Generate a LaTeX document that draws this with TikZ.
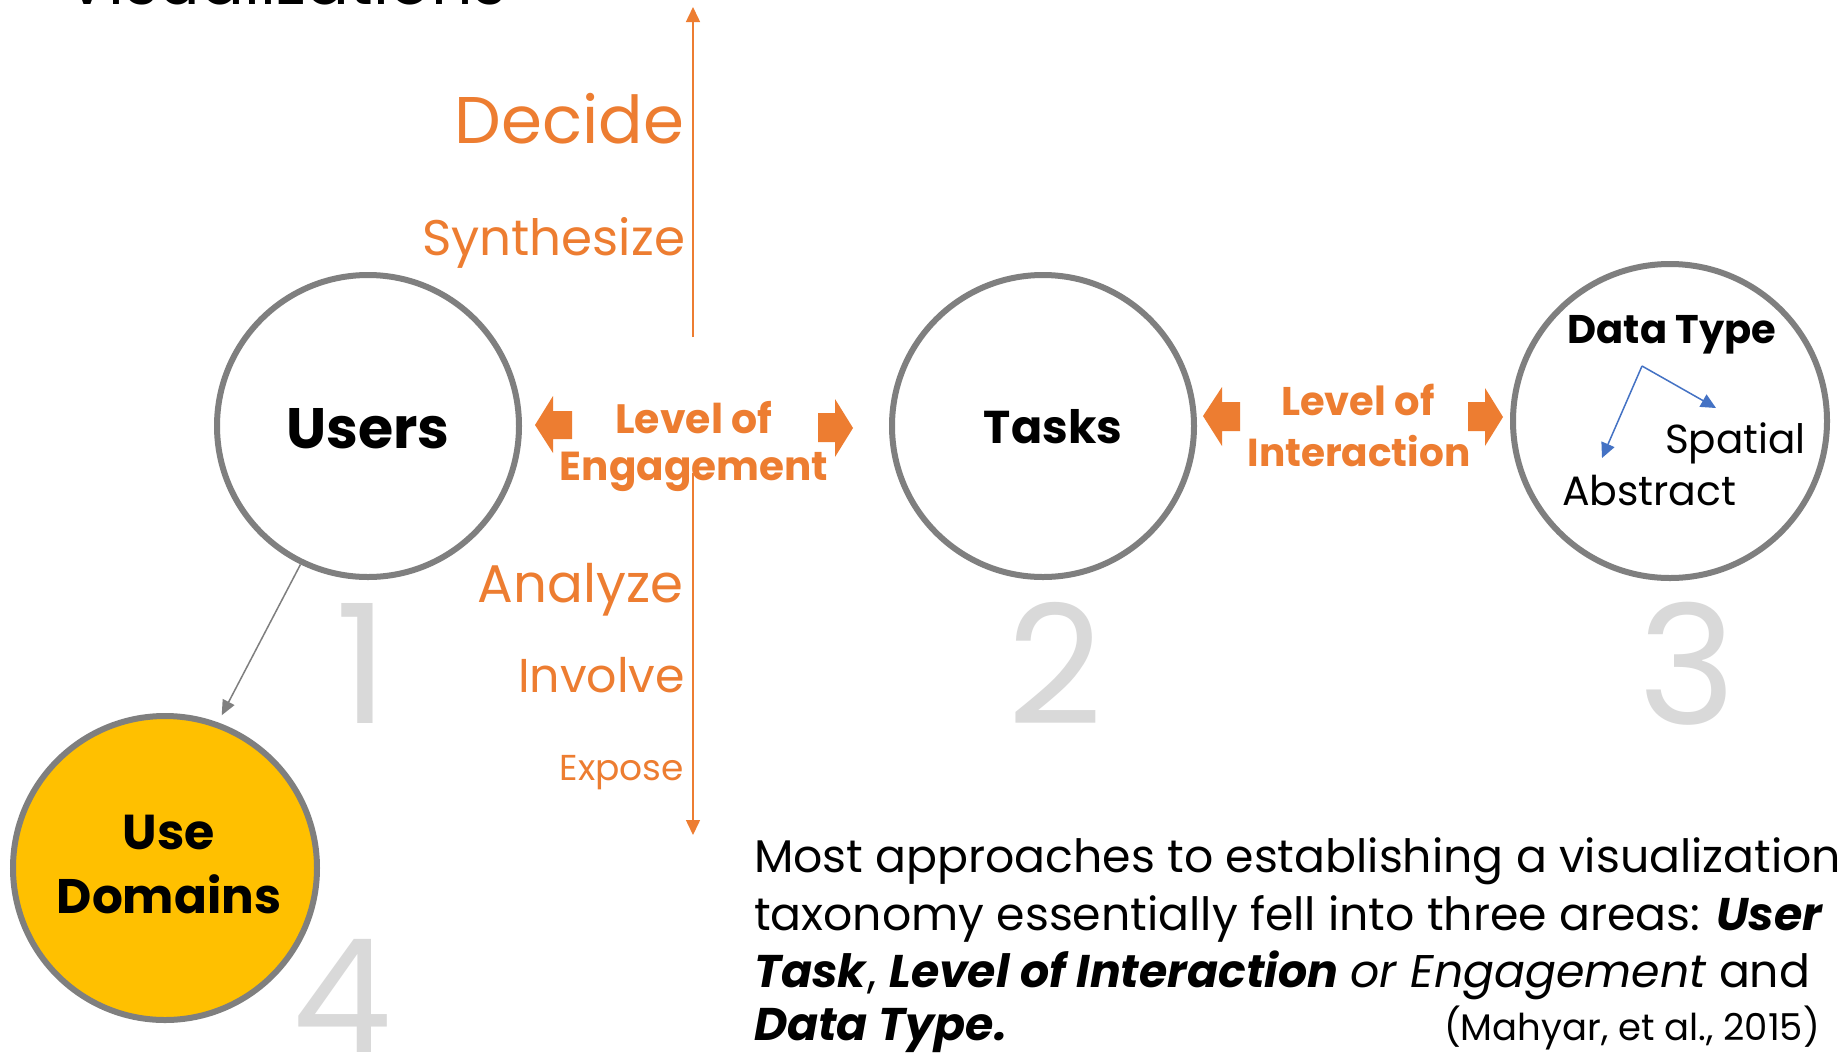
\documentclass[tikz,border=0pt]{standalone}
\usepackage{fontspec}
\setmainfont{Poppins}
\usetikzlibrary{arrows.meta,calc}
\definecolor{org}{HTML}{ED7D31}
\definecolor{cgray}{HTML}{7F7F7F}
\definecolor{ngray}{HTML}{D9D9D9}
\definecolor{bl}{HTML}{4472C4}
\definecolor{yel}{HTML}{FFC000}
\newcommand{\myfs}[1]{\fontsize{#1}{#1}\selectfont}
\tikzset{
  circ/.style={circle, draw=cgray, line width=6pt, inner sep=0pt},
  lbl/.style={inner sep=0pt, outer sep=0pt},
  verb/.style={lbl, anchor=base east, text=org},
  num/.style={lbl, anchor=base, text=ngray},
  para/.style={lbl, anchor=base west, text=black},
  blockarrow/.style={fill=org, draw=none},
  vline/.style={draw=org, line width=1.5pt, -{Triangle[length=15pt,width=14pt]}},
  bluearrow/.style={draw=bl, line width=1.5pt, -{Triangle[length=15pt,width=14pt]}},
  grayarrow/.style={draw=cgray, line width=1.5pt, -{Triangle[length=15pt,width=13pt]}}
}
\begin{document}
\begin{tikzpicture}[x=1pt,y=-1pt]
\useasboundingbox (0,0) rectangle (1839,1053);
\clip (0,0) rectangle (1839,1053);
\fill[white] (0,0) rectangle (1839,1053);

% title cut at top
\node[para] (title) at (65,4) {\myfs{65}Visualizations};

% circles
\node[circ, minimum size=302pt] (users) at (368,426) {};
\node[circ, minimum size=302pt] (tasks) at (1043,426) {};
\node[circ, minimum size=314pt] (dtype) at (1670,421) {};
\node[circ, fill=yel, minimum size=304pt] (usedom) at (165,868) {};

% numbers
\node[num] (n1) at (362,723) {\myfs{166}1};
\node[num] (n2) at (1055,724) {\myfs{166}2};
\node[num] (n3) at (1687,724) {\myfs{166}3};
\node[num] (n4) at (342,1052) {\myfs{158}4};

% circle labels
\node[lbl, anchor=base] (tusers) at (368,448) {\myfs{57}\bfseries Users};
\node[lbl, anchor=base] (ttasks) at (1053,443) {\myfs{46}\bfseries Tasks};
\node[lbl, anchor=base] (tdtype) at (1672,343) {\myfs{40}\bfseries Data Type};
\node[lbl, anchor=base west] (tspatial) at (1665,453) {\myfs{40.5}Spatial};
\node[lbl, anchor=base west] (tabstract) at (1562,505) {\myfs{41}Abstract};
\node[lbl, anchor=base] (tuse) at (169,849) {\myfs{49}\bfseries Use};
\node[lbl, anchor=base] (tdomains) at (169,913) {\myfs{48.5}\bfseries Domains};

% blue arrows
\coordinate (dtsplit) at (1642,366);
\coordinate (abstip) at (1602,458);
\coordinate (spatip) at (1716,408);
\draw[bluearrow] (dtsplit) -- (abstip);
\draw[bluearrow] (dtsplit) -- (spatip);

% gray arrow users -> use domains
\draw[grayarrow, shorten >=8pt] (users.-116) -- (usedom.70);

% vertical engagement axis
\coordinate (vtopstart) at (693,337);
\coordinate (vtopend) at (693,7);
\coordinate (vbotstart) at (693,473);
\coordinate (vbotend) at (693,835);
\draw[vline] (vtopstart) -- (vtopend);
\draw[vline] (vbotstart) -- (vbotend);

% verbs
\node[verb] (decide) at (684,143) {\myfs{66}Decide};
\node[verb] (synth) at (685,255) {\myfs{50}Synthesize};
\node[verb] (analyze) at (683,602) {\myfs{53}Analyze};
\node[verb] (involve) at (685,692) {\myfs{47.5}Involve};
\node[verb] (expose) at (684,780) {\myfs{36}Expose};

% Level of Engagement
\node[lbl, anchor=base, text=org] (eng1) at (694,433) {\myfs{41}\bfseries Level of};
\node[lbl, anchor=base, text=org] (eng2) at (694,480) {\myfs{40.5}\bfseries Engagement};
\node[lbl, anchor=base, text=org] (int1) at (1358,415) {\myfs{40}\bfseries Level of};
\node[lbl, anchor=base, text=org] (int2) at (1359,466) {\myfs{39}\bfseries Interaction};

% block arrows
\fill[blockarrow] (535,425) -- (553,396) -- (553,411) -- (572,411) -- (572,439) -- (553,439) -- (553,453) -- cycle;
\fill[blockarrow] (853,428) -- (835,399) -- (835,413) -- (818,413) -- (818,442) -- (835,442) -- (835,457) -- cycle;
\fill[blockarrow] (1203,416) -- (1222,387) -- (1222,402) -- (1240,402) -- (1240,431) -- (1222,431) -- (1222,446) -- cycle;
\fill[blockarrow] (1503,417) -- (1485,388) -- (1485,402) -- (1468,402) -- (1468,431) -- (1485,431) -- (1485,446) -- cycle;

% paragraph
\node[para] (p1) at (754,872) {\myfs{45.8}Most approaches to establishing a visualization};
\node[para] (p2) at (754,930) {\myfs{45.8}taxonomy essentially fell into three areas: \textbf{\textit{User}}};
\node[para] (p3) at (754,987) {\myfs{45.8}\textbf{\textit{Task}}, \textbf{\textit{Level of Interaction}} \textit{or Engagement} and};
\node[para] (p4) at (754,1040) {\myfs{45.8}\textbf{\textit{Data Type.}}};
\node[lbl, anchor=base east] (cite) at (1820,1040) {\myfs{37}(Mahyar, et al., 2015)};
\end{tikzpicture}
\end{document}
